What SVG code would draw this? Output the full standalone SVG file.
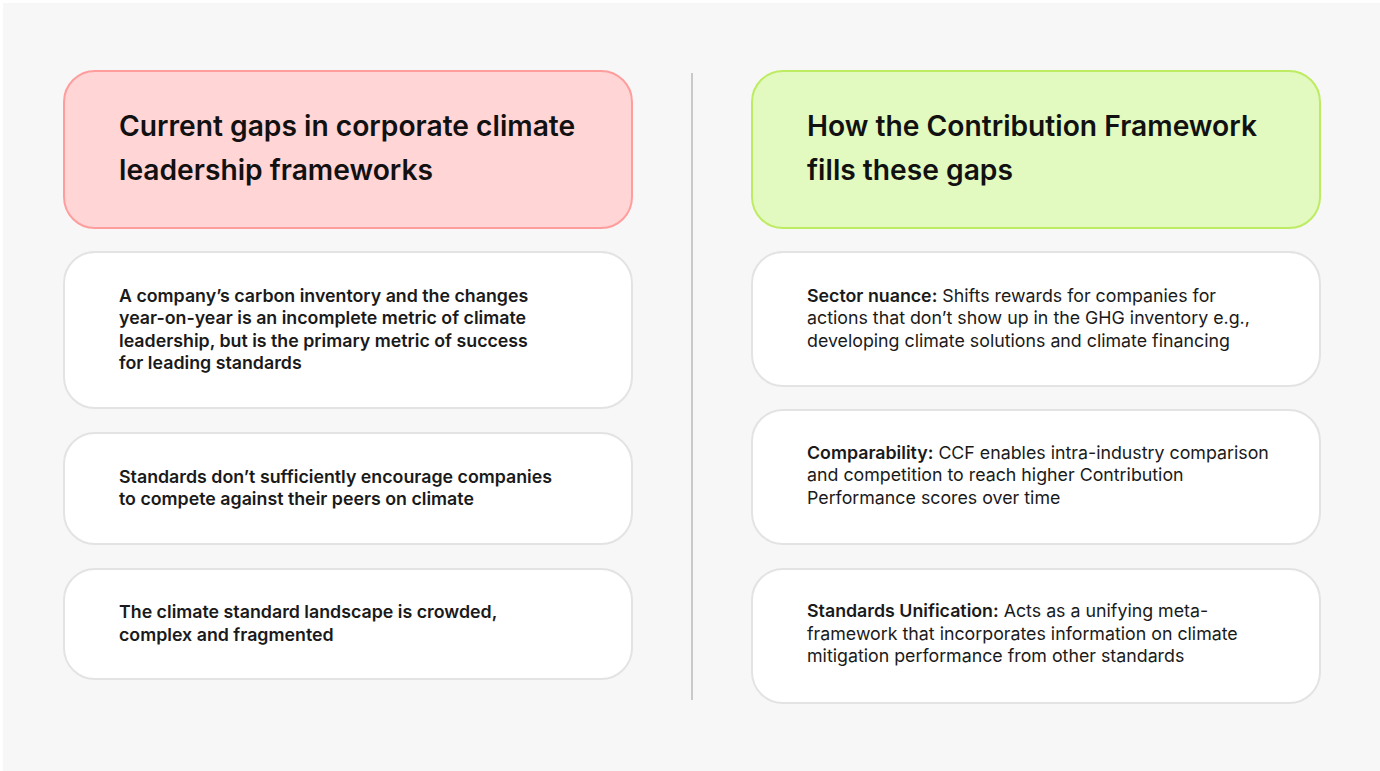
<svg xmlns="http://www.w3.org/2000/svg" width="1380" height="771" viewBox="0 0 1380 771">
  <style>
    .bg { fill: #f7f7f7; }
    .card { fill: #ffffff; stroke: #e3e3e3; stroke-width: 2; }
    .gap { fill: #ffd5d5; stroke: #ff9d9d; stroke-width: 2; }
    .fill { fill: #e2f9bf; stroke: #bdec62; stroke-width: 2; }
    .divider { stroke: #c9c9c9; stroke-width: 2; }
    .title { font-family: Inter, "Liberation Sans", sans-serif; font-size: 28.2px; font-weight: 600; fill: #111111; }
    .body { font-family: Inter, "Liberation Sans", sans-serif; font-size: 17.8px; fill: #1a1a1a; }
    .b { font-weight: 600; }
  </style>

  <rect width="1380" height="771" fill="#ffffff"/>
  <rect class="bg" x="3" y="3" width="1377" height="768"/>

  <!-- left column: current gaps -->
  <g id="gaps-header">
    <rect class="gap" x="64" y="71" width="568" height="157" rx="31"/>
    <text class="title" x="119" y="136">Current gaps in corporate climate</text>
    <text class="title" x="119" y="180">leadership frameworks</text>
  </g>

  <g id="gap-inventory">
    <rect class="card" x="64" y="252" width="568" height="156" rx="31"/>
    <text class="body b" x="119" y="302">A company’s carbon inventory and the changes</text>
    <text class="body b" x="119" y="324">year-on-year is an incomplete metric of climate</text>
    <text class="body b" x="119" y="347">leadership, but is the primary metric of success</text>
    <text class="body b" x="119" y="369">for leading standards</text>
  </g>

  <g id="gap-competition">
    <rect class="card" x="64" y="433" width="568" height="111" rx="31"/>
    <text class="body b" x="119" y="483">Standards don’t sufficiently encourage companies</text>
    <text class="body b" x="119" y="505">to compete against their peers on climate</text>
  </g>

  <g id="gap-fragmentation">
    <rect class="card" x="64" y="569" width="568" height="110" rx="31"/>
    <text class="body b" x="119" y="618">The climate standard landscape is crowded,</text>
    <text class="body b" x="119" y="641">complex and fragmented</text>
  </g>

  <!-- column separator -->
  <g id="connectors">
    <line class="divider" x1="692" y1="73" x2="692" y2="700"/>
  </g>

  <!-- right column: how the framework responds -->
  <g id="fills-header">
    <rect class="fill" x="752" y="71" width="568" height="157" rx="31"/>
    <text class="title" x="807" y="136">How the Contribution Framework</text>
    <text class="title" x="807" y="180">fills these gaps</text>
  </g>

  <g id="fill-sector">
    <rect class="card" x="752" y="252" width="568" height="134" rx="31"/>
    <text class="body" x="807" y="302"><tspan class="b">Sector nuance:</tspan> Shifts rewards for companies for</text>
    <text class="body" x="807" y="324">actions that don’t show up in the GHG inventory e.g.,</text>
    <text class="body" x="807" y="347">developing climate solutions and climate financing</text>
  </g>

  <g id="fill-comparability">
    <rect class="card" x="752" y="410" width="568" height="134" rx="31"/>
    <text class="body" x="807" y="459"><tspan class="b">Comparability:</tspan> CCF enables intra-industry comparison</text>
    <text class="body" x="807" y="481">and competition to reach higher Contribution</text>
    <text class="body" x="807" y="504">Performance scores over time</text>
  </g>

  <g id="fill-unification">
    <rect class="card" x="752" y="569" width="568" height="134" rx="31"/>
    <text class="body" x="807" y="617"><tspan class="b">Standards Unification:</tspan> Acts as a unifying meta-</text>
    <text class="body" x="807" y="640">framework that incorporates information on climate</text>
    <text class="body" x="807" y="662">mitigation performance from other standards</text>
  </g>
</svg>
